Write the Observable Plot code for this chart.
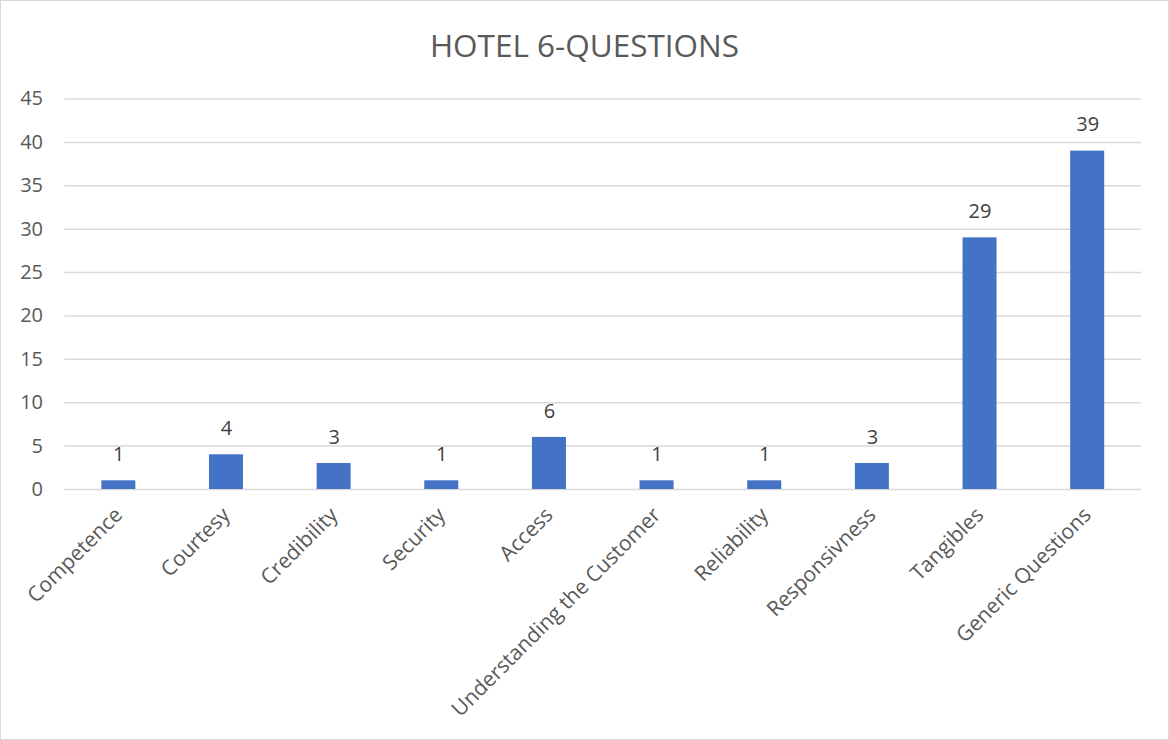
<!DOCTYPE html>
<html>
<head>
<meta charset="utf-8">
<script src="https://cdn.jsdelivr.net/npm/d3@7"></script>
<script src="https://cdn.jsdelivr.net/npm/@observablehq/plot@0.6"></script>
<style>
  html, body { margin: 0; padding: 0; background: #fff; }
  #wrap { position: relative; width: 1169px; height: 740px; overflow: hidden; font-family: "Open Sans", sans-serif; }
  #frame { position: absolute; left: 0; top: 0; width: 1169px; height: 740px; box-sizing: border-box; border: 1.5px solid #d9d9d9; pointer-events: none; }
  #title { position: absolute; left: 0; top: 0; width: 1169px; height: 80px; text-align: center; line-height: 90px; font-size: 31.5px; color: #595959; }
  #chart { position: absolute; left: 0; top: 80px; }
</style>
</head>
<body>
<div id="wrap">
  <div id="title">HOTEL 6-QUESTIONS</div>
  <div id="chart"></div>
  <div id="frame"></div>
</div>
<script>
const categories = ["Competence", "Courtesy", "Credibility", "Security", "Access", "Understanding the Customer", "Reliability", "Responsivness", "Tangibles", "Generic Questions"];
const counts = [1, 4, 3, 1, 6, 1, 1, 3, 29, 39];
const yTicks = [0, 5, 10, 15, 20, 25, 30, 35, 40, 45];

const data = categories.map((c, i) => ({category: c, value: counts[i]}));

const plot = Plot.plot({
  width: 1169,
  height: 660,
  marginTop: 18.5,
  marginBottom: 251,
  marginLeft: 64.5,
  marginRight: 28,
  style: {fontFamily: "Open Sans, sans-serif", fontSize: "20px", color: "#595959", background: "transparent"},
  x: {domain: categories, round: false, paddingInner: 0.684, paddingOuter: 0.342, label: null},
  y: {domain: [0, 45], ticks: yTicks, label: null},
  marks: [
    Plot.gridY(yTicks, {stroke: "#d9d9d9", strokeOpacity: 1, strokeWidth: 1.5}),
    Plot.barY(data, {x: "category", y: "value", fill: "#4472C4"}),
    Plot.text(data, {x: "category", y: "value", text: d => String(d.value), dy: -26, fill: "#404040", fontSize: 20}),
    Plot.axisX({tickSize: 0, tickRotate: -45, tickPadding: 22, fontSize: 21, fill: "#595959", label: null}),
    Plot.axisY({ticks: yTicks, tickSize: 0, tickPadding: 22, fontSize: 20, fill: "#595959", label: null})
  ]
});
document.getElementById("chart").appendChild(plot);
</script>
</body>
</html>
